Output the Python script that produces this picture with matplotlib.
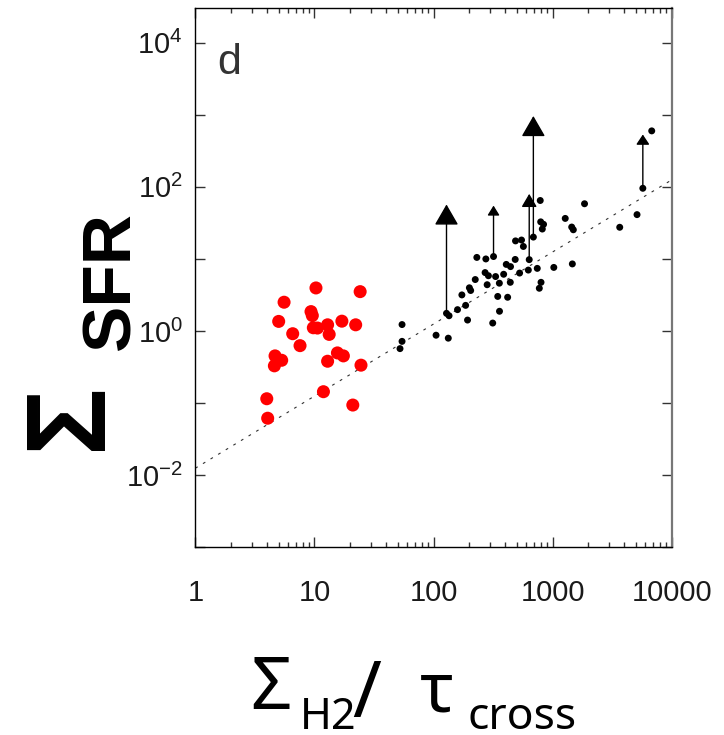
import math
import matplotlib
matplotlib.use("Agg")
import matplotlib.pyplot as plt
from matplotlib.ticker import FixedLocator, FuncFormatter, LogLocator, NullFormatter

plt.rcParams['font.family'] = ['Liberation Sans', 'DejaVu Sans']

# low-mass sample (red)
red_x = [10.3, 24.2, 5.56, 9.36, 9.60, 5.01, 17.0, 22.2, 12.9, 9.79, 10.6, 6.57, 13.3,
         7.57, 4.67, 5.31, 4.61, 15.6, 17.5, 12.9, 24.6, 3.98, 11.9, 21.0, 4.05]
red_y = [3.96, 3.52, 2.51, 1.86, 1.64, 1.36, 1.37, 1.22, 1.22, 1.11, 1.10, 0.918, 0.898,
         0.627, 0.452, 0.393, 0.329, 0.497, 0.452, 0.381, 0.336, 0.115, 0.144, 0.094, 0.0617]

# main sample (black)
blk_x = [54.4, 54.4, 52.3, 105, 133, 128.5, 135, 159, 186, 173, 200, 205, 193, 224, 231,
         275, 319, 271, 289, 282, 314, 358, 346, 419, 357, 332, 388, 408, 443, 441, 485,
         528, 488, 548, 568, 636, 625, 743, 689, 787, 794, 839, 819, 799, 773, 1023, 1276,
         1446, 1492, 1464, 1853, 3659, 5112, 5720, 6793]
blk_y = [1.23, 0.719, 0.570, 0.875, 0.796, 1.76, 1.63, 1.98, 2.27, 3.17, 3.98, 3.65, 1.42,
         5.18, 10.5, 10.0, 10.8, 6.47, 5.85, 4.39, 1.29, 1.88, 3.02, 2.94, 4.61, 5.70, 6.13,
         8.40, 7.83, 4.74, 9.84, 6.37, 17.8, 18.3, 14.9, 9.78, 7.01, 7.40, 20.1, 64.7, 32.7,
         30.2, 26.0, 4.74, 3.92, 7.63, 36.5, 27.7, 25.4, 8.53, 58.3, 27.5, 41.2, 95.6, 598]

# lower limits: x, measured value, limit
lim_x = [128.5, 319, 636, 689, 5720]
lim_lo = [1.76, 10.8, 9.78, 20.1, 95.6]
lim_hi = [57, 55, 80, 962, 532]
head_len = [13, 5.8, 8, 13, 6]
head_w = [7.5, 3.6, 4.7, 7.5, 4]

fit_x = [1, 10000]
fit_y = [x / 80 for x in fit_x]

fig = plt.figure(figsize=(7.24, 7.35), dpi=100)
ax = fig.add_axes([0.2698, 0.2554, 0.658, 0.7333])
ax.set_xscale('log')
ax.set_yscale('log')
ax.set_xlim(1, 1e4)
ax.set_ylim(1e-3, 3e4)

ax.plot(fit_x, fit_y, color='#333333', lw=0.8, dashes=(2.5, 5.5))
ax.scatter(red_x, red_y, s=88, color='#ff0000', edgecolors='none', zorder=3)
ax.scatter(blk_x, blk_y, s=25, color='black', edgecolors='none', zorder=3)
for x, lo, hi, hl, hw in zip(lim_x, lim_lo, lim_hi, head_len, head_w):
    ax.annotate('', xy=(x, hi), xytext=(x, lo),
                arrowprops=dict(arrowstyle=f'-|>,head_length={hl},head_width={hw}',
                                mutation_scale=1, color='black', lw=1,
                                shrinkA=0, shrinkB=0))

ax.text(0.047, 0.878, 'd', transform=ax.transAxes, fontsize=31, color='#333333',
        va='baseline', ha='left')

# x axis: decades with minor ticks, on top and bottom
ax.xaxis.set_major_locator(FixedLocator([1, 10, 100, 1000, 10000]))
ax.xaxis.set_major_formatter(FuncFormatter(lambda v, p: f'{int(round(v))}'))
ax.xaxis.set_minor_locator(LogLocator(base=10, subs=range(2, 10)))
ax.xaxis.set_minor_formatter(NullFormatter())

# y axis: every decade ticked, even decades labelled
ax.yaxis.set_major_locator(FixedLocator([10.0 ** k for k in range(-3, 5)]))
def ylab(v, p):
    k = int(round(math.log10(v)))
    return r'$\mathdefault{10^{%d}}$' % k if k % 2 == 0 else ''
ax.yaxis.set_major_formatter(FuncFormatter(ylab))
ax.yaxis.set_minor_locator(FixedLocator([]))

ax.tick_params(axis='both', which='both', direction='in', top=True, right=True,
               color='#333333', width=1, labelcolor='#1a1a1a')
ax.tick_params(axis='both', which='major', length=7, labelsize=21)
ax.tick_params(axis='x', which='minor', length=3.5)
ax.tick_params(axis='x', which='major', pad=23)
ax.tick_params(axis='y', which='major', pad=9)

for side in ['left', 'top', 'bottom']:
    ax.spines[side].set_color('black')
    ax.spines[side].set_linewidth(1)
ax.spines['right'].set_color('#777777')
ax.spines['right'].set_linewidth(1.6)

W, H = 724, 735
def fpos(px, py):
    return px / W, 1 - py / H

# y label
fig.text(*fpos(101, 450), '\u03a3', rotation=90, rotation_mode='anchor',
         ha='left', va='baseline', fontsize=81, fontweight='bold', color='black')
fig.text(*fpos(129, 350), 'SFR', rotation=90, rotation_mode='anchor',
         ha='left', va='baseline', fontsize=50, fontweight='bold', color='black')

# x label
xfam = ['Noto Sans', 'Open Sans', 'DejaVu Sans']
fig.text(*fpos(250, 709), '\u03a3', fontsize=52, family=xfam, ha='left', va='baseline')
fig.text(*fpos(300, 729), 'H2', fontsize=31, family=xfam, ha='left', va='baseline')
fig.text(*fpos(352, 717), '/', fontsize=56, family=xfam, ha='left', va='baseline')
fig.text(*fpos(420, 711), '\u03c4', fontsize=50, family=xfam, ha='left', va='baseline')
fig.text(*fpos(467, 729), 'cross', fontsize=32, family=xfam, ha='left', va='baseline')

fig.savefig('out.png', dpi=100)
